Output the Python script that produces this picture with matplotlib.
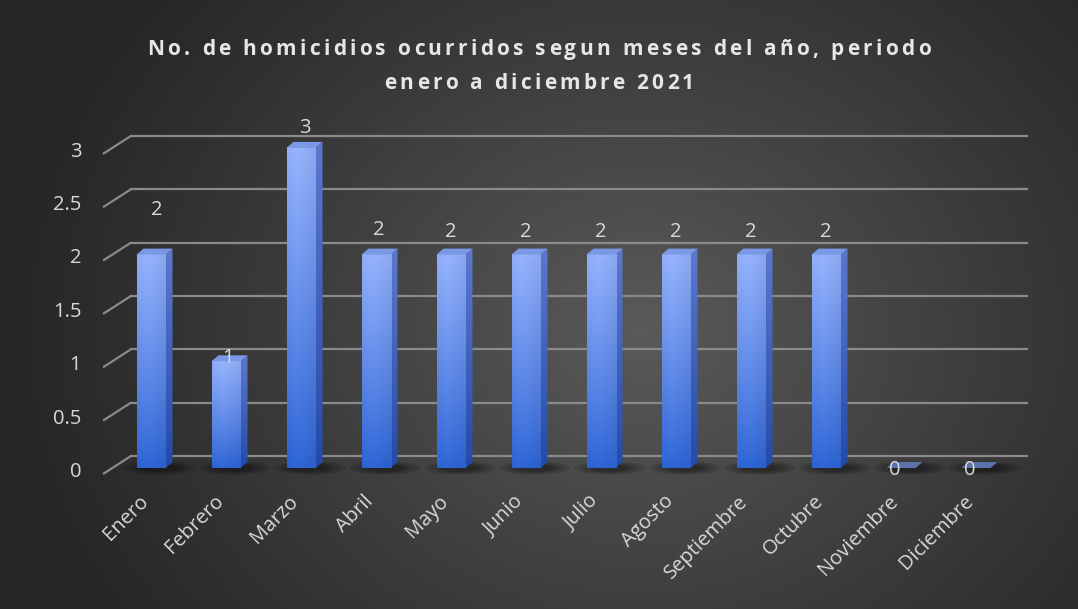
import numpy as np
import matplotlib
matplotlib.use("Agg")
import matplotlib.pyplot as plt
from matplotlib.patches import Polygon, Ellipse
from matplotlib.font_manager import FontProperties

# ---------------- data ----------------
months = ["Enero", "Febrero", "Marzo", "Abril", "Mayo", "Junio", "Julio",
          "Agosto", "Septiembre", "Octubre", "Noviembre", "Diciembre"]
homicidios = [2, 1, 3, 2, 2, 2, 2, 2, 2, 2, 0, 0]
yticks = [0, 0.5, 1, 1.5, 2, 2.5, 3]
ytick_labels = ["0", "0.5", "1", "1.5", "2", "2.5", "3"]
title_lines = ["No. de homicidios ocurridos segun meses del año, periodo",
               "enero a diciembre 2021"]

# ---------------- style / layout ----------------
W, H, DPI = 1078, 609, 100
PX_X, PX_Y = 75.0, 106.7          # pixels per category / per unit
X0_PX, Y0_PX = 151.0, 468.0       # pixel of first bar centre / bar base
AX_L, AX_R, AX_T, AX_B = 60, 1060, 100, 500   # axes pixel box

BAR_W = 29 / PX_X
BAR_DX, BAR_DY = 7 / PX_X, 6 / PX_Y
FRONT_DY = -6 / PX_Y
BACK_DY = 12 / PX_Y
FLOOR_X_FRONT = (103 - X0_PX) / PX_X
FLOOR_X_BACK = (131 - X0_PX) / PX_X
WALL_X_END = (1027 - X0_PX) / PX_X
TXT = "#d9d9d9"
GRID = "#8a8a8a"
label_dx = [0.08, 0.03, 0.05, 0.04, 0.0, 0.0, 0.0, 0.0, 0.0, 0.0, -0.08, -0.08]
label_dy = [0.42, 0.03, 0.19, 0.23, 0.21, 0.21, 0.21, 0.21, 0.21, 0.21, -0.02, -0.02]

plt.rcParams["font.family"] = ["Open Sans", "DejaVu Sans"]

fig = plt.figure(figsize=(W / DPI, H / DPI), dpi=DPI)

# background radial gradient
bg = fig.add_axes([0, 0, 1, 1])
yy, xx = np.mgrid[0:H, 0:W]
r = np.sqrt(((xx - 640) / 1.0) ** 2 + ((yy - 330) / 0.85) ** 2)
t = np.clip(1 - r / 640.0, 0, 1) ** 1.1
c = (38 + (90 - 38) * t) / 255.0
bg.imshow(np.dstack([c, c, c]), extent=[0, W, H, 0], aspect="auto", interpolation="bilinear")
bg.set_xlim(0, W); bg.set_ylim(H, 0)
bg.axis("off")

ax = fig.add_axes([AX_L / W, 1 - AX_B / H, (AX_R - AX_L) / W, (AX_B - AX_T) / H])
ax.set_facecolor("none")
ax.axis("off")
xlim = ((AX_L - X0_PX) / PX_X, (AX_R - X0_PX) / PX_X)
ylim = ((Y0_PX - AX_B) / PX_Y, (Y0_PX - AX_T) / PX_Y)

# gridlines (back wall + floor edge)
for v in yticks:
    ax.plot([FLOOR_X_FRONT, FLOOR_X_BACK], [v + FRONT_DY, v + BACK_DY], color=GRID, lw=1.6,
            solid_capstyle="butt", zorder=1)
    ax.plot([FLOOR_X_BACK, WALL_X_END], [v + BACK_DY, v + BACK_DY], color=GRID, lw=1.6, zorder=1)

for v, lab in zip(yticks, ytick_labels):
    ax.text(FLOOR_X_FRONT - 0.29, v + FRONT_DY + 0.02, lab, ha="right", va="center",
            fontsize=14.5, color=TXT, clip_on=False)

# gradients
def front_grad(n=64):
    tt = np.linspace(1, 0, n)[:, None]
    ss = np.linspace(0, 1, 16)[None, :]
    top = np.array([150, 180, 255]) / 255
    bot = np.array([46, 102, 216]) / 255
    col = bot + (top - bot) * (tt[..., None] ** 0.9)
    shade = 1 - 0.10 * np.abs(ss - 0.35)[..., None]
    return np.clip(col * shade, 0, 1)

def side_grad(n=64):
    tt = np.linspace(1, 0, n)[:, None, None]
    top = np.array([92, 120, 205]) / 255
    bot = np.array([36, 75, 170]) / 255
    return np.repeat(bot + (top - bot) * tt, 4, axis=1)

FG, SG = front_grad(), side_grad()

for i, v in enumerate(homicidios):
    x0, x1 = i - BAR_W / 2, i + BAR_W / 2
    # shadow
    for k, a in enumerate([0.10, 0.10, 0.12, 0.14]):
        ax.add_patch(Ellipse((i + 0.12, 0.0), width=(0.95 - 0.15 * k), height=(0.13 - 0.02 * k),
                             facecolor="black", edgecolor="none", alpha=a, zorder=2))
    if v > 0:
        ax.imshow(FG, extent=[x0, x1, 0, v], aspect="auto", zorder=4, interpolation="bilinear")
        side = Polygon([(x1, 0), (x1 + BAR_DX, BAR_DY), (x1 + BAR_DX, v + BAR_DY), (x1, v)],
                       closed=True, facecolor="none", edgecolor="none")
        ax.add_patch(side)
        im = ax.imshow(SG, extent=[x1, x1 + BAR_DX, 0, v + BAR_DY], aspect="auto", zorder=3,
                       interpolation="bilinear")
        im.set_clip_path(side)
        ax.add_patch(Polygon([(x0, v), (x1, v), (x1 + BAR_DX, v + BAR_DY), (x0 + BAR_DX, v + BAR_DY)],
                             closed=True, facecolor="#7b98e6", edgecolor="none", zorder=4))
    else:
        ax.add_patch(Polygon([(x0, v), (x1, v), (x1 + BAR_DX, v + BAR_DY), (x0 + BAR_DX, v + BAR_DY)],
                             closed=True, facecolor="#5d72aa", edgecolor="none", zorder=4))
    ax.text(i + label_dx[i], v + label_dy[i], str(v), ha="center", va="center", fontsize=14.5,
            color=TXT, zorder=6)
    ax.text(i - 0.17, -0.22, months[i], rotation=45, rotation_mode="anchor", ha="right",
            va="top", fontsize=14.5, color=TXT, clip_on=False)

ax.set_xlim(*xlim)
ax.set_ylim(*ylim)

# title with letter spacing (tracking), drawn char by char
renderer = fig.canvas.get_renderer()
tprop = FontProperties(family=["Open Sans", "DejaVu Sans"], weight="bold", size=15)
TRACK = 3.3           # extra pixels between characters
title_y_px = [47, 81]
for line, ypx in zip(title_lines, title_y_px):
    pref = [renderer.get_text_width_height_descent(line[:k], tprop, ismath=False)[0] if k else 0.0
            for k in range(len(line) + 1)]
    total = pref[-1] + TRACK * (len(line) - 1)
    start = W / 2 - total / 2
    for k, ch in enumerate(line):
        if ch == " ":
            continue
        xpx = start + pref[k] + TRACK * k
        fig.text(xpx / W, 1 - ypx / H, ch, ha="left", va="center_baseline", fontproperties=tprop,
                 color="#e6e6e6")

fig.savefig("out.png", dpi=DPI)
